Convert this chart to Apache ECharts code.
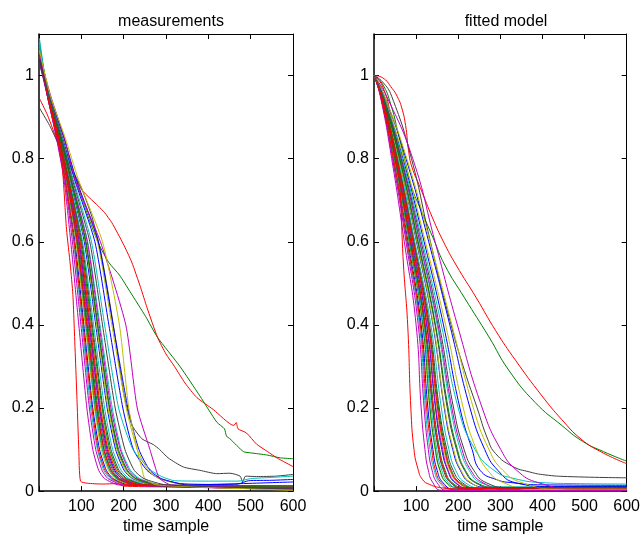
<!DOCTYPE html>
<html><head><meta charset="utf-8">
<script src="https://cdn.jsdelivr.net/npm/echarts@6/dist/echarts.min.js"></script>
<style>html,body{margin:0;padding:0;background:#fff}#c{width:643px;height:540px}</style>
</head><body><div id="c"></div>
<script>
// ---------- data ----------
const TITLES = ['measurements', 'fitted model'];
const X_NAME = 'time sample';
const LEVELS_M = [0.95, 0.85, 0.75, 0.6, 0.4, 0.2, 0.1, 0.05, 0.03, 0.015];
const LEVELS_F = [0.95, 0.8, 0.6, 0.4, 0.2, 0.1, 0.05, 0.02];

// measurements: value at t=1, times at which each level is crossed, value at t=600
const measStart = [1.05,1.06,0.945,1.08,1.04,1.06,0.922,1.07,1.05,1.05,1.09,1.03,1.06,1.04,1.05,1.07,1.06,1.08,1.04,1.05,1.03,1.04,1.06,1.05,1.07,1.04,1.06,1.05,1.04,1.07,1.06,1.07,1.05,1.06,1.04];
const measTimes = [
  [20,43,63,85,106,127,143,159,175,212], null, null,
  [20,42,62,82,102,122,138,153,168,204],
  [20,41,59,75,94,113,127,141,155,188],
  [21,44,64,87,109,131,147,164,180,218], null,
  [22,46,68,95,119,143,161,179,196,238],
  [21,44,65,89,111,133,150,167,183,222], null,
  [21,45,65,90,112,134,151,168,185,224],
  [20,42,61,79,99,119,134,149,163,198],
  [22,47,69,98,122,146,165,183,201,244],
  [21,45,66,91,114,137,154,171,188,228],
  [23,49,73,107,134,161,181,201,221,268],
  [21,46,67,93,116,139,157,174,191,232],
  [20,43,62,83,104,125,140,156,172,208],
  [22,48,71,103,129,155,174,194,213,258],
  [21,46,67,94,118,142,159,177,195,236],
  [23,50,74,109,136,163,184,204,224,272],
  [22,48,70,101,126,151,170,189,208,252], null,
  [22,47,70,99,124,149,167,186,205,248],
  [21,45,66,90,113,136,153,170,186,226],
  [24,52,77,115,144,173,194,216,238,288],
  [23,51,76,114,142,170,192,213,234,284],
  [26,58,87,138,172,206,232,258,284,344],
  [23,51,75,111,139,167,188,209,229,278],
  [26,59,88,140,175,210,236,262,289,350],
  [23,50,75,110,138,166,186,207,228,276],
  [22,47,69,97,121,145,163,182,200,242], null,
  [28,60,85,145,205,232,262,277,285,312],
  [27,62,93,150,190,212,232,244,250,278],
  [24,53,79,120,150,180,203,225,248,300]
];
const measEnd = [0.006,0.078,0.059,0.01,0.004,0.008,0.04,0.012,0.009,0.008,0.011,0.005,0.007,0.004,0.01,0.008,0.012,0.013,0.006,0.003,0.005,0.028,0.009,0.011,0.012,0.006,0.004,0.006,0.022,0.01,0.013,0.036,0.007,0.002,0.005];

const measGreenSlow = [[1,1.06],[25,0.95],[50,0.86],[75,0.78],[100,0.71],[120,0.65],[141,0.595],[165,0.55],[190,0.52],[215,0.48],[252,0.42],[280,0.37],[333,0.30],[380,0.229],[420,0.166],[438,0.15],[443,0.132],[451,0.126],[483,0.095],[500,0.092],[538,0.087],[570,0.08],[600,0.078]];
const measRedSlow = [[1,0.945],[20,0.905],[46,0.835],[70,0.785],[85,0.757],[101,0.725],[120,0.705],[140,0.686],[155,0.67],[172,0.646],[199,0.595],[219,0.551],[240,0.49],[255,0.442],[280,0.37],[300,0.33],[320,0.30],[345,0.26],[373,0.225],[412,0.196],[460,0.158],[466,0.165],[470,0.15],[490,0.14],[514,0.113],[540,0.095],[562,0.08],[600,0.059]];
const measBlackTail = [[1,0.922],[25,0.88],[46,0.835],[75,0.78],[100,0.73],[125,0.66],[145,0.58],[164,0.473],[180,0.37],[200,0.236],[219,0.16],[243,0.126],[270,0.112],[285,0.1],[305,0.08],[341,0.058],[380,0.05],[420,0.042],[451,0.043],[475,0.036],[481,0.022],[488,0.036],[514,0.035],[560,0.036],[600,0.04]];
const measRedFast = [[1,1.05],[20,0.97],[40,0.88],[55,0.78],[65,0.63],[74,0.544],[80,0.473],[83,0.4],[90,0.213],[94,0.1],[98,0.024],[114,0.019],[150,0.017],[184,0.018],[200,0.012],[300,0.01],[450,0.008],[600,0.008]];
const measBlueTail = [[1,1.04],[25,0.95],[56,0.85],[84,0.75],[132,0.6],[165,0.4],[198,0.2],[223,0.1],[255,0.05],[285,0.03],[335,0.018],[420,0.016],[470,0.017],[495,0.025],[550,0.026],[600,0.028]];
const measCyanTail = [[1,1.07],[24,0.95],[54,0.85],[81,0.75],[124,0.6],[155,0.4],[188,0.2],[222,0.1],[265,0.05],[290,0.035],[320,0.025],[400,0.024],[470,0.024],[500,0.03],[550,0.033],[600,0.036]];

// fitted model: times at which each level is crossed, then time the floor is reached; floor value
const fitTimes = [
  [16,47,81,112,128,140,150,164,192], null, null,
  [16,45,78,108,122,133,143,156,180],
  [15,42,72,100,112,121,129,140,160],
  [17,48,83,115,132,145,156,171,200], null,
  [18,53,90,125,146,161,175,193,228],
  [17,49,84,116,133,146,157,173,202], null,
  [17,50,85,118,136,149,161,177,208],
  [16,44,76,105,119,129,138,150,173],
  [18,54,92,128,150,166,180,200,237],
  [17,50,86,120,139,153,165,182,214],
  [20,59,101,140,167,187,205,229,274],
  [18,51,88,122,142,156,169,186,220],
  [16,46,79,110,125,137,146,160,186],
  [19,57,97,135,160,178,194,217,259],
  [18,53,91,126,147,163,176,195,231],
  [20,59,102,141,168,189,207,231,278],
  [19,55,95,132,155,173,188,210,249], null,
  [19,55,94,130,153,170,184,205,243],
  [18,51,87,121,140,154,167,184,217],
  [21,63,108,150,182,205,226,254,308],
  [21,64,109,152,185,209,230,259,315],
  [23,71,122,170,212,243,270,308,379],
  [20,61,104,145,174,196,215,241,291],
  [25,76,130,180,228,263,294,337,418],
  [21,61,105,146,176,198,217,244,294],
  [18,54,93,129,151,168,182,202,240], null,
  [30,92,145,198,257,301,339,391,491],
  [25,78,133,185,236,273,306,352,438],
  [22,65,112,155,189,214,237,267,325]
];
const fitEnd = [0.004,0,0,0.006,0.002,0.003,0,0.007,0.008,0,0.005,0.002,0.004,0.006,0.009,0.008,0.005,0.007,0.003,0.004,0.006,0,0.008,0.005,0.01,0.003,0.004,0.007,0.011,0.009,0.006,0,0.004,0.005,0.008];

const fitGreenSlow = [[0,1],[20,0.98],[40,0.93],[60,0.85],[75,0.79],[90,0.73],[110,0.68],[140,0.61],[168,0.544],[215,0.465],[273,0.371],[320,0.291],[383,0.213],[446,0.158],[495,0.12],[545,0.095],[600,0.072]];
const fitRedSlow = [[0,1],[20,0.995],[43,0.969],[55,0.95],[66,0.922],[75,0.88],[82,0.82],[90,0.78],[110,0.73],[140,0.655],[165,0.6],[195,0.544],[243,0.465],[289,0.386],[336,0.315],[399,0.229],[446,0.172],[492,0.125],[540,0.094],[600,0.066]];
const fitBlackTail = [[0,1],[20,0.985],[42,0.95],[89,0.8],[134,0.6],[183,0.4],[215,0.29],[245,0.2],[270,0.125],[289,0.09],[328,0.06],[370,0.046],[406,0.039],[460,0.035],[600,0.032]];
const fitRedFast = [[0,1],[20,0.975],[40,0.9],[58,0.78],[70,0.544],[80,0.4],[87.5,0.2],[95,0.1],[104,0.055],[115,0.028],[132,0.016],[160,0.008],[200,0.005],[600,0.004]];
const fitBlueTail = [[0,1],[23,0.95],[69,0.8],[119,0.6],[165,0.4],[204,0.2],[233,0.1],[252,0.05],[290,0.028],[330,0.02],[400,0.015],[600,0.014]];
const fitCyanTail = [[0,1],[22,0.95],[67,0.8],[115,0.6],[160,0.4],[200,0.2],[240,0.1],[285,0.05],[330,0.031],[407,0.02],[480,0.018],[600,0.017]];

const MEAS_SPECIAL = {1: measGreenSlow, 2: measRedSlow, 6: measBlackTail, 9: measRedFast, 21: measBlueTail, 31: measCyanTail};
const FIT_SPECIAL = {1: fitGreenSlow, 2: fitRedSlow, 6: fitBlackTail, 9: fitRedFast, 21: fitBlueTail, 31: fitCyanTail};

// ---------- build ----------
function measData(i) {
  if (MEAS_SPECIAL[i]) return MEAS_SPECIAL[i];
  const d = [[1, measStart[i]]];
  measTimes[i].forEach((t, k) => d.push([t, LEVELS_M[k]]));
  d.push([600, measEnd[i]]);
  return d;
}
function fitData(i) {
  if (FIT_SPECIAL[i]) return FIT_SPECIAL[i];
  const ts = fitTimes[i];
  const d = [[0, 1]];
  for (let k = 0; k < LEVELS_F.length; k++) d.push([ts[k], LEVELS_F[k]]);
  d.push([ts[8], fitEnd[i]]);
  d.push([600, fitEnd[i]]);
  return d;
}

const N = measStart.length;
const FONT = 'Liberation Sans, Arial, Helvetica, sans-serif';
const series = [];
for (let i = 0; i < N; i++) {
  series.push({type: 'line', xAxisIndex: 0, yAxisIndex: 0, data: measData(i), showSymbol: false,
    smooth: 0.2, lineStyle: {width: 1}, emphasis: {disabled: true}});
}
for (let i = 0; i < N; i++) {
  series.push({type: 'line', xAxisIndex: 2, yAxisIndex: 2, data: fitData(i), showSymbol: false,
    smooth: 0.5, lineStyle: {width: 1}, emphasis: {disabled: true}});
}

const grids = [{left: 39, top: 34, width: 254, height: 466}, {left: 374, top: 34, width: 255, height: 466}];
const xAxes = [], yAxes = [];
grids.forEach((g, gi) => {
  xAxes.push({gridIndex: gi, type: 'value', min: 0, max: 600, interval: 100, position: 'bottom',
    axisLine: {onZero: false, lineStyle: {color: '#000', width: 1.5}},
    axisTick: {inside: true, length: 5, lineStyle: {color: '#000'}},
    axisLabel: {color: '#000', fontSize: 16, fontFamily: FONT, margin: 7, formatter: v => v === 0 ? '' : String(v)},
    splitLine: {show: false},
    name: X_NAME, nameLocation: 'middle', nameGap: 24,
    nameTextStyle: {color: '#000', fontSize: 16, fontFamily: FONT}});
  xAxes.push({gridIndex: gi, type: 'value', min: 0, max: 600, interval: 100, position: 'top',
    axisLine: {onZero: false, lineStyle: {color: '#000', width: 1}},
    axisTick: {inside: true, length: 5, lineStyle: {color: '#000'}},
    axisLabel: {show: false}, splitLine: {show: false}});
  yAxes.push({gridIndex: gi, type: 'value', min: 0, max: 1.1, interval: 0.2, position: 'left',
    axisLine: {onZero: false, lineStyle: {color: '#000', width: 1.5}},
    axisTick: {inside: true, length: 5, lineStyle: {color: '#000'}},
    axisLabel: {color: '#000', fontSize: 16, fontFamily: FONT, margin: 5,
      formatter: v => v > 1.05 ? '' : String(+v.toFixed(1))},
    splitLine: {show: false}});
  yAxes.push({gridIndex: gi, type: 'value', min: 0, max: 1.1, interval: 0.2, position: 'right',
    axisLine: {onZero: false, lineStyle: {color: '#000', width: 1}},
    axisTick: {inside: true, length: 5, lineStyle: {color: '#000'}},
    axisLabel: {show: false}, splitLine: {show: false}});
});

const chart = echarts.init(document.getElementById('c'), null, {renderer: 'canvas'});
chart.setOption({
  animation: false,
  backgroundColor: '#fff',
  color: ['#0000ff', '#008000', '#ff0000', '#00bfbf', '#bf00bf', '#bfbf00', '#404040'],
  title: [
    {text: TITLES[0], left: 166, top: 9, textAlign: 'center', textStyle: {fontSize: 16, fontWeight: 'normal', color: '#000', fontFamily: FONT}},
    {text: TITLES[1], left: 501, top: 9, textAlign: 'center', textStyle: {fontSize: 16, fontWeight: 'normal', color: '#000', fontFamily: FONT}}
  ],
  grid: grids,
  xAxis: xAxes,
  yAxis: yAxes,
  series: series
});
</script>
</body></html>
